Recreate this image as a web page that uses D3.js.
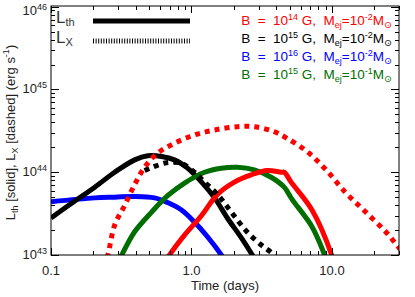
<!DOCTYPE html>
<html>
<head>
<meta charset="utf-8">
<script src="https://cdn.jsdelivr.net/npm/d3@7"></script>
<style>
    html, body { margin: 0; padding: 0; background: #fff; }
    svg { display: block; font-family: "Liberation Sans", "DejaVu Sans", sans-serif; }
</style>
</head>
<body>
<svg id="chart" width="415" height="297"></svg>
<script>
// Time (days) and luminosity (erg/s)
const blueT = [0.1, 0.205, 0.284, 0.394, 0.546, 0.676, 0.849, 1.05, 1.30, 1.63, 1.80];
const blueL = [4.4e43, 4.9e43, 5.0e43, 5.1e43, 4.9e43, 4.3e43, 3.5e43, 2.5e43, 1.66e43, 1.0e43, 7.6e42];

const blackT = [0.1, 0.148, 0.205, 0.284, 0.394, 0.488, 0.613, 0.757, 0.937, 1.18, 1.46, 1.80, 2.26, 2.71, 2.94];
const blackL = [2.8e43, 4.5e43, 6.6e43, 1.0e44, 1.41e44, 1.58e44, 1.55e44, 1.41e44, 1.12e44, 7.6e43, 4.9e43, 2.8e43, 1.62e43, 1.0e43, 7.9e42];

const blackXT = [0.464, 0.529, 0.665, 0.849, 1.05, 1.24, 1.53, 1.92, 2.49, 3.14, 3.75, 4.07];
const blackXL = [1.05e44, 1.15e44, 1.30e44, 1.28e44, 1.0e44, 7.6e43, 5.4e43, 3.3e43, 1.9e43, 1.32e43, 1.05e43, 8.9e42];

const greenT = [0.299, 0.319, 0.394, 0.520, 0.676, 0.892, 1.24, 1.63, 2.12, 2.80, 3.69, 4.57, 5.20, 7.21, 8.77, 9.22];
const greenL = [7.9e42, 1.0e43, 1.91e43, 3.3e43, 5.2e43, 7.4e43, 1.0e44, 1.12e44, 1.15e44, 1.07e44, 8.7e43, 6.6e43, 4.7e43, 2.2e43, 1.05e43, 8.3e42];

const redT = [0.654, 0.698, 0.892, 1.18, 1.53, 2.02, 2.66, 3.46, 4.35, 4.57, 5.12, 7.21, 9.84, 10.2];
const redL = [8.3e42, 1.0e43, 1.74e43, 3.0e43, 5.4e43, 7.6e43, 9.3e43, 1.05e44, 1.0e44, 1.0e44, 7.6e43, 3.5e43, 1.05e43, 8.3e42];

const redXT = [0.238, 0.254, 0.284, 0.335, 0.394, 0.464, 0.574, 0.757, 1.05, 1.46, 2.12, 2.80, 3.88, 4.79, 6.65, 9.06, 12.6, 17.4, 24.2, 28.9, 32.4];
const redXL = [7.1e42, 1.0e43, 2.3e43, 4.0e43, 7.1e43, 1.15e44, 1.70e44, 2.24e44, 2.82e44, 3.24e44, 3.55e44, 3.55e44, 3.09e44, 2.57e44, 1.78e44, 1.07e44, 5.6e43, 3.3e43, 1.9e43, 1.32e43, 1.05e43];

const xTicks = [0.1, 1, 10];
const xTickLabels = ['0.1', '1.0', '10.0'];
const yTicks = [1e43, 1e44, 1e45, 1e46];
const yTickExps = ['43', '44', '45', '46'];

// legend rows: B exponent, M exponent, colour
const legendB = ['14', '15', '16', '15'];
const legendM = ['-2', '-2', '-2', '-1'];
const legendColors = ['#ff0000', '#000000', '#0000ff', '#006e00'];

(function() {
    'use strict';

    const width = 415, height = 297;
    const margin = { top: 6, right: 16, bottom: 42, left: 51 };
    const innerWidth = width - margin.left - margin.right;
    const innerHeight = height - margin.top - margin.bottom;

    const svg = d3.select('#chart');
    const g = svg.append('g')
        .attr('transform', `translate(${margin.left}, ${margin.top})`);

    const xScale = d3.scaleLog().domain([0.1, 30]).range([0, innerWidth]);
    const yScale = d3.scaleLog().domain([1e43, 1.02e46]).range([innerHeight, 0]);

    g.append('clipPath').attr('id', 'clip')
        .append('rect').attr('width', innerWidth).attr('height', innerHeight);

    const line = d3.line()
        .x(d => xScale(d[0]))
        .y(d => yScale(d[1]))
        .curve(d3.curveCatmullRom.alpha(0.5));

    const curves = g.append('g').attr('clip-path', 'url(#clip)');

    function drawCurve(ts, ls, color, dashed) {
        curves.append('path')
            .datum(d3.zip(ts, ls))
            .attr('fill', 'none')
            .attr('stroke', color)
            .attr('stroke-width', 5)
            .attr('stroke-dasharray', dashed ? '5,5' : null)
            .attr('d', line);
    }

    drawCurve(blueT, blueL, legendColors[2], false);
    drawCurve(blackT, blackL, legendColors[1], false);
    drawCurve(greenT, greenL, legendColors[3], false);
    drawCurve(redT, redL, legendColors[0], false);
    drawCurve(blackXT, blackXL, legendColors[1], true);
    drawCurve(redXT, redXL, legendColors[0], true);

    // Frame
    g.append('rect')
        .attr('width', innerWidth).attr('height', innerHeight)
        .attr('fill', 'none').attr('stroke', '#000').attr('stroke-width', 1);

    // Minor + major ticks, pointing inward on all four sides
    const xMinor = [];
    [0.1, 1, 10].forEach(base => { for (let k = 2; k <= 9; k++) if (base * k <= 30) xMinor.push(base * k); });
    const yMinor = [];
    [1e43, 1e44, 1e45].forEach(base => { for (let k = 2; k <= 9; k++) yMinor.push(base * k); });

    const ticks = g.append('g').attr('stroke', '#000').attr('stroke-width', 1);
    function xTick(v, len) {
        const x = Math.round(xScale(v)) + 0.5;
        ticks.append('line').attr('x1', x).attr('x2', x).attr('y1', innerHeight).attr('y2', innerHeight - len);
        ticks.append('line').attr('x1', x).attr('x2', x).attr('y1', 0).attr('y2', len);
    }
    function yTick(v, len) {
        const y = Math.round(yScale(v)) + 0.5;
        ticks.append('line').attr('x1', 0).attr('x2', len).attr('y1', y).attr('y2', y);
        ticks.append('line').attr('x1', innerWidth).attr('x2', innerWidth - len).attr('y1', y).attr('y2', y);
    }
    xTicks.forEach(v => xTick(v, 7));
    xMinor.forEach(v => xTick(v, 4));
    yTicks.forEach(v => yTick(v, 8));
    yMinor.forEach(v => yTick(v, 4));

    // Tick labels
    xTicks.forEach((v, i) => {
        g.append('text')
            .attr('x', xScale(v)).attr('y', innerHeight + 20)
            .attr('text-anchor', 'middle')
            .style('font-size', '13px').style('fill', '#222')
            .text(xTickLabels[i]);
    });
    yTicks.forEach((v, i) => {
        // keep the top label inside the picture
        const base = Math.max(yScale(v) + 4, 9);
        const t = g.append('text')
            .attr('x', -4).attr('y', base)
            .attr('text-anchor', 'end')
            .style('font-size', '13px').style('fill', '#222');
        t.append('tspan').text('10');
        t.append('tspan').attr('dy', -5).style('font-size', '9px').text(yTickExps[i]);
    });

    // Axis titles
    g.append('text')
        .attr('x', innerWidth / 2).attr('y', innerHeight + 35)
        .attr('text-anchor', 'middle')
        .style('font-size', '13px').style('fill', '#222')
        .text('Time (days)');

    const yl = svg.append('text')
        .attr('transform', `translate(15, ${margin.top + innerHeight / 2 + 2}) rotate(-90)`)
        .attr('text-anchor', 'middle')
        .style('font-size', '13px').style('fill', '#222');
    yl.append('tspan').text('L');
    yl.append('tspan').attr('dy', 3).style('font-size', '9px').text('th');
    yl.append('tspan').attr('dy', -3).text(' [solid], L');
    yl.append('tspan').attr('dy', 3).style('font-size', '9px').text('X');
    yl.append('tspan').attr('dy', -3).text(' [dashed] (erg s');
    yl.append('tspan').attr('dy', -6).style('font-size', '9px').text('-1');
    yl.append('tspan').attr('dy', 6).text(')');

    // Left legend: L_th / L_X line styles
    const lx0 = 42, lx1 = 139;
    g.append('line').attr('x1', lx0).attr('x2', lx1).attr('y1', 15).attr('y2', 15)
        .attr('stroke', '#000').attr('stroke-width', 5);
    g.append('line').attr('x1', lx0).attr('x2', lx1).attr('y1', 35).attr('y2', 35)
        .attr('stroke', '#000').attr('stroke-width', 5).attr('stroke-dasharray', '1,1.6');

    [['th', 17], ['X', 37]].forEach(([sub, y]) => {
        const t = g.append('text').attr('x', 5).attr('y', y)
            .style('font-size', '17px').style('fill', '#333');
        t.append('tspan').text('L');
        t.append('tspan').attr('dy', 3).style('font-size', '11px').text(sub);
    });

    // Right legend: model parameters
    legendB.forEach((b, i) => {
        const t = g.append('text')
            .attr('x', innerWidth - 7).attr('y', 19 + i * 18)
            .attr('text-anchor', 'end')
            .attr('xml:space', 'preserve')
            .style('font-size', '13.5px')
            .style('fill', legendColors[i]);
        t.append('tspan').text('B  =  10');
        t.append('tspan').attr('dy', -5).style('font-size', '9px').text(b);
        t.append('tspan').attr('dy', 5).text(' G,  M');
        t.append('tspan').attr('dy', 3).style('font-size', '9px').text('ej');
        t.append('tspan').attr('dy', -3).text('=10');
        t.append('tspan').attr('dy', -5).style('font-size', '9px').text(legendM[i]);
        t.append('tspan').attr('dy', 5).text('M');
        t.append('tspan').attr('dy', 3).style('font-size', '9.5px').text('\u2299');
    });
})();
</script>
</body>
</html>
